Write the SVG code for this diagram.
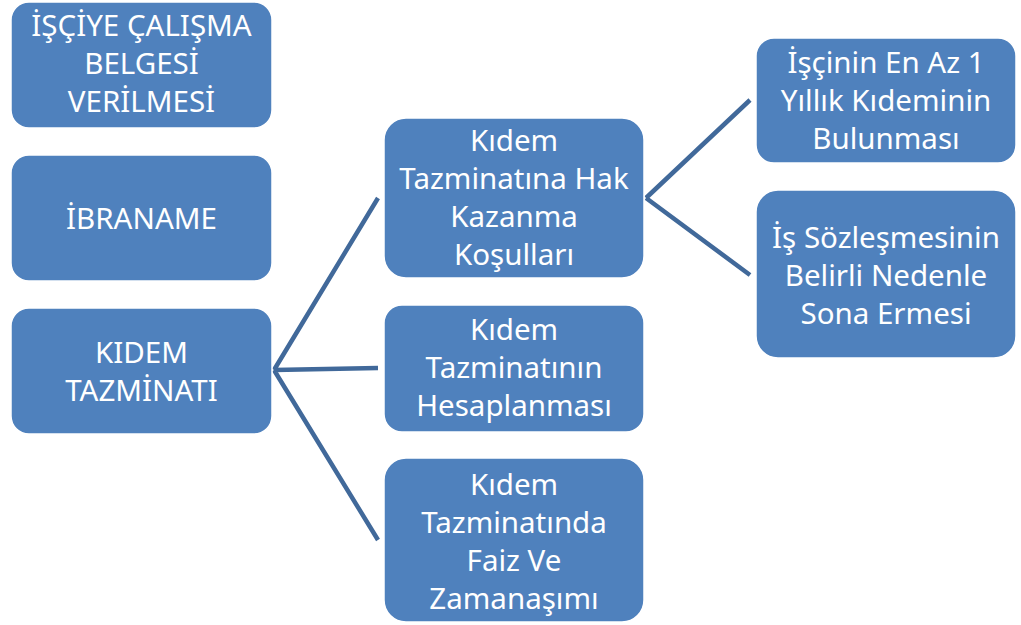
<svg xmlns="http://www.w3.org/2000/svg" width="1021" height="625" viewBox="0 0 1021 625">
<style>
.box{fill:#4F81BD;stroke:#ffffff;stroke-width:1.5}
.t{font-family:"Noto Sans","Open Sans","Liberation Sans",sans-serif;font-size:29.5px;fill:#ffffff;text-anchor:middle}
.c{stroke:#41699A;stroke-width:4.5;fill:none}
</style>
<rect width="1021" height="625" fill="#ffffff"/>
<g id="connectors">
<path class="c" d="M274,370 L378,198 M274,370 L378,368 M274,370 L378,540"/>
<path class="c" d="M646,198 L750,100 M646,198 L750,275"/>
</g>
<g id="n1"><rect class="box" x="11" y="2" width="261" height="126" rx="18"/>
<text class="t"><tspan x="141.5" y="36">İŞÇİYE ÇALIŞMA</tspan><tspan x="141.5" y="74">BELGESİ</tspan><tspan x="141.5" y="112">VERİLMESİ</tspan></text></g>
<g id="n2"><rect class="box" x="11" y="155" width="261" height="126" rx="18"/>
<text class="t" x="141.5" y="229">İBRANAME</text></g>
<g id="n3"><rect class="box" x="11" y="308" width="261" height="126" rx="18"/>
<text class="t"><tspan x="141.5" y="363">KIDEM</tspan><tspan x="141.5" y="401">TAZMİNATI</tspan></text></g>
<g id="n4"><rect class="box" x="384" y="118" width="260" height="160" rx="22"/>
<text class="t"><tspan x="514" y="151">Kıdem</tspan><tspan x="514" y="189">Tazminatına Hak</tspan><tspan x="514" y="227">Kazanma</tspan><tspan x="514" y="265">Koşulları</tspan></text></g>
<g id="n5"><rect class="box" x="384" y="305" width="260" height="127" rx="18"/>
<text class="t"><tspan x="514" y="340">Kıdem</tspan><tspan x="514" y="378">Tazminatının</tspan><tspan x="514" y="416">Hesaplanması</tspan></text></g>
<g id="n6"><rect class="box" x="384" y="458" width="260" height="164" rx="22"/>
<text class="t"><tspan x="514" y="495">Kıdem</tspan><tspan x="514" y="533">Tazminatında</tspan><tspan x="514" y="571">Faiz Ve</tspan><tspan x="514" y="609">Zamanaşımı</tspan></text></g>
<g id="n7"><rect class="box" x="756" y="38" width="260" height="125" rx="18"/>
<text class="t"><tspan x="886" y="73">İşçinin En Az 1</tspan><tspan x="886" y="111">Yıllık Kıdeminin</tspan><tspan x="886" y="149">Bulunması</tspan></text></g>
<g id="n8"><rect class="box" x="756" y="190" width="260" height="168" rx="22"/>
<text class="t"><tspan x="886" y="248">İş Sözleşmesinin</tspan><tspan x="886" y="286">Belirli Nedenle</tspan><tspan x="886" y="324">Sona Ermesi</tspan></text></g>
</svg>
